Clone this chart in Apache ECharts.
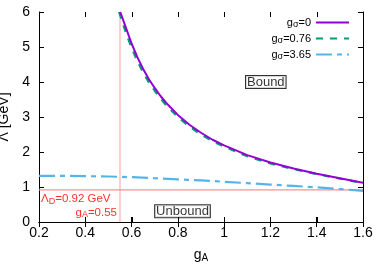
<!DOCTYPE html>
<html><head><meta charset="utf-8">
<script src="https://cdn.jsdelivr.net/npm/echarts@6/dist/echarts.min.js"></script>
<style>html,body{margin:0;padding:0;background:#fff}#c{width:382px;height:267px}</style>
</head><body><div id="c"></div>
<script>
// ---- data ----
const xTicks = [0.2, 0.4, 0.6, 0.8, 1.0, 1.2, 1.4, 1.6];
const yTicks = [0, 1, 2, 3, 4, 5, 6];

const gA_s0 = [0.551, 0.575, 0.6, 0.625, 0.65, 0.675, 0.7, 0.725, 0.75, 0.8, 0.85, 0.9, 0.95, 1.0, 1.1, 1.2, 1.3, 1.4, 1.5, 1.6];
const L_s0  = [6.0, 5.56, 5.1, 4.71, 4.37, 4.08, 3.83, 3.6, 3.4, 3.06, 2.78, 2.55, 2.35, 2.19, 1.91, 1.70, 1.53, 1.38, 1.25, 1.12];

const gA_s076 = [0.546, 0.575, 0.6, 0.625, 0.65, 0.675, 0.7, 0.725, 0.75, 0.8, 0.85, 0.9, 0.95, 1.0, 1.1, 1.2, 1.3, 1.4, 1.5, 1.6];
const L_s076  = [6.0, 5.42, 4.98, 4.6, 4.27, 3.99, 3.75, 3.53, 3.33, 3.0, 2.73, 2.5, 2.31, 2.15, 1.88, 1.67, 1.51, 1.37, 1.24, 1.11];

const gA_s365 = [0.2, 0.3, 0.4, 0.5, 0.6, 0.7, 0.8, 0.9, 1.0, 1.1, 1.2, 1.3, 1.4, 1.5, 1.6];
const L_s365  = [1.32, 1.32, 1.31, 1.30, 1.28, 1.25, 1.22, 1.19, 1.15, 1.11, 1.07, 1.03, 0.99, 0.94, 0.89];

const seriesNames = ['g_σ=0', 'g_σ=0.76', 'g_σ=3.65'];

const lambdaD = 0.92;
const gAcrit = 0.55;
const boundPos = [1.18, 4.0];
const unboundPos = [0.82, 0.31];

// ---- chart ----
const FONT = 'Liberation Sans';
const zip = (a, b) => a.map((v, i) => [v, b[i]]);
const chart = echarts.init(document.getElementById('c'), null, {renderer: 'canvas'});

function richName(n) {
  const m = n.split('_σ');
  return '{n|g}{s|σ}{n|' + m[1] + '}';
}
const mkTick = () => ({show: true, inside: true, length: 5, lineStyle: {color: '#000', width: 1}});

const option = {
  animation: false,
  textStyle: {fontFamily: FONT},
  grid: {left: 39, right: 19, top: 12, bottom: 45, containLabel: false, outerBoundsMode: 'none'},
  legend: {
    orient: 'vertical', right: 32, top: 17, align: 'right', padding: 0,
    itemWidth: 33, itemHeight: 10, itemGap: 4,
    itemStyle: {opacity: 0},
    data: seriesNames,
    formatter: richName,
    textStyle: {
      fontFamily: FONT, fontSize: 11, color: '#000',
      rich: {
        n: {fontFamily: FONT, fontSize: 11, color: '#000'},
        s: {fontFamily: FONT, fontSize: 9, color: '#000', padding: [4, 0, 0, 0]}
      }
    }
  },
  xAxis: [{
    type: 'value', min: 0.2, max: 1.6, interval: 0.2,
    axisLine: {show: true, lineStyle: {color: '#000', width: 1}},
    axisTick: mkTick(),
    splitLine: {show: false},
    axisLabel: {fontSize: 14, color: '#000', margin: 4, fontFamily: FONT},
    name: '{n|g}{s|A}', nameLocation: 'middle', nameGap: 25,
    nameTextStyle: {rich: {n: {fontSize: 14, fontFamily: FONT, color: '#000'}, s: {fontSize: 10, fontFamily: FONT, color: '#000', padding: [6, 0, 0, 0]}}}
  }, {
    type: 'value', min: 0.2, max: 1.6, interval: 0.2, position: 'top',
    axisLine: {show: true, lineStyle: {color: '#000', width: 1}},
    axisTick: mkTick(),
    axisLabel: {show: false}, splitLine: {show: false}
  }],
  yAxis: [{
    type: 'value', min: 0, max: 6, interval: 1,
    axisLine: {show: true, lineStyle: {color: '#000', width: 1}},
    axisTick: mkTick(),
    splitLine: {show: false},
    axisLabel: {fontSize: 14, color: '#000', margin: 9, fontFamily: FONT},
    name: 'Λ [GeV]', nameLocation: 'middle', nameGap: 24, nameRotate: 90,
    nameTextStyle: {fontSize: 14, color: '#000', fontFamily: FONT}
  }, {
    type: 'value', min: 0, max: 6, interval: 1, position: 'right',
    axisLine: {show: true, lineStyle: {color: '#000', width: 1}},
    axisTick: mkTick(),
    axisLabel: {show: false}, splitLine: {show: false}
  }],
  series: [
    {type: 'line', name: 'vline', data: [[gAcrit, 0], [gAcrit, 6]], symbol: 'none', silent: true,
     lineStyle: {color: '#ffb3b3', width: 1.3}, z: 1},
    {type: 'line', name: 'hline', data: [[0.2, lambdaD], [1.6, lambdaD]], symbol: 'none', silent: true,
     lineStyle: {color: '#ff8f8f', width: 1.3}, z: 1},
    {type: 'line', name: seriesNames[2], data: zip(gA_s365, L_s365), symbol: 'none',
     lineStyle: {color: '#56b4e9', width: 2.2, type: [16, 5, 5, 5]}, itemStyle: {color: '#56b4e9'}, z: 2},
    {type: 'line', name: seriesNames[1], data: zip(gA_s076, L_s076), symbol: 'none',
     lineStyle: {color: '#009e73', width: 2.2, type: [7, 7]}, itemStyle: {color: '#009e73'}, z: 2},
    {type: 'line', name: seriesNames[0], data: zip(gA_s0, L_s0), symbol: 'none',
     lineStyle: {color: '#9400d3', width: 2}, itemStyle: {color: '#9400d3'}, z: 3},
    {type: 'scatter', name: 'labels', symbolSize: 0, silent: true, z: 5,
     data: [boundPos.concat(['Bound']), unboundPos.concat(['Unbound'])],
     label: {show: true, position: 'inside', formatter: p => p.data[2], fontSize: 13, color: '#000',
       fontFamily: FONT, borderColor: '#000', borderWidth: 1, padding: [0, 1, -1, 1], backgroundColor: '#fff'}}
  ]
};
chart.setOption(option);

// annotations and mirrored inward ticks positioned through the axes
const toPx = v => chart.convertToPixel({xAxisIndex: 0, yAxisIndex: 0}, v);
const pD = toPx([0.2, lambdaD]);
const pA = toPx([gAcrit, 0]);
const pMin = toPx([0.2, 0]);
const pMax = toPx([1.6, 6]);
const L = 5;
const tickStyle = {stroke: '#000', lineWidth: 1};
const ticks = [];
xTicks.forEach(v => {
  const x = Math.round(toPx([v, 0])[0]) + 0.5;
  ticks.push({type: 'line', silent: true, z: 10, shape: {x1: x, y1: pMin[1], x2: x, y2: pMin[1] - L}, style: tickStyle});
  ticks.push({type: 'line', silent: true, z: 10, shape: {x1: x, y1: pMax[1], x2: x, y2: pMax[1] + L}, style: tickStyle});
});
yTicks.forEach(v => {
  const y = Math.round(toPx([0.2, v])[1]) + 0.5;
  ticks.push({type: 'line', silent: true, z: 10, shape: {x1: pMin[0], y1: y, x2: pMin[0] + L, y2: y}, style: tickStyle});
  ticks.push({type: 'line', silent: true, z: 10, shape: {x1: pMax[0], y1: y, x2: pMax[0] - L, y2: y}, style: tickStyle});
});
chart.setOption({
  graphic: ticks.concat([
    {type: 'text', x: pD[0] + 2, y: pD[1] + 3, silent: true,
     style: {text: '{n|Λ}{s|D}{n|=0.92 GeV}', fill: '#ff3030',
       rich: {n: {fontSize: 11.5, fontFamily: FONT, fill: '#ff3030'}, s: {fontSize: 9, fontFamily: FONT, fill: '#ff3030', padding: [4, 0, 0, 0]}}}},
    {type: 'text', x: pA[0] - 3, y: pA[1] - 16, silent: true,
     style: {text: '{n|g}{s|A}{n|=0.55}', fill: '#ff3030', align: 'right',
       rich: {n: {fontSize: 11.5, fontFamily: FONT, fill: '#ff3030'}, s: {fontSize: 9, fontFamily: FONT, fill: '#ff3030', padding: [4, 0, 0, 0]}}}}
  ])
});
</script></body></html>
